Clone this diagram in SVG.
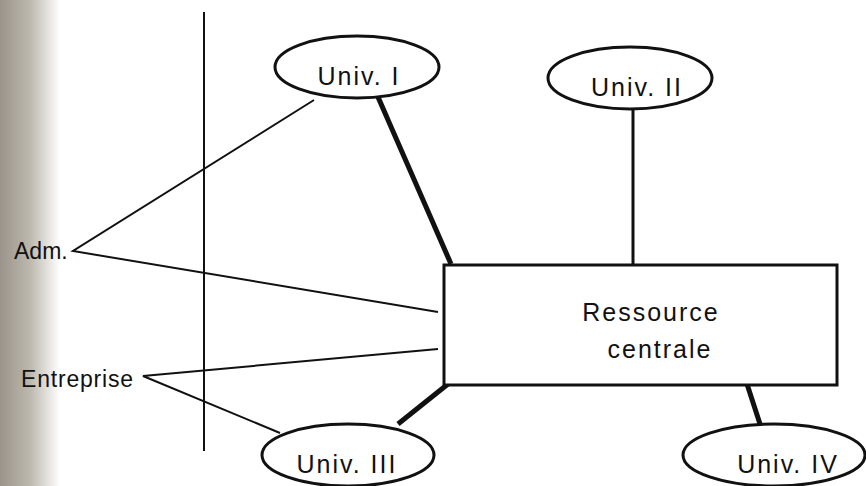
<svg xmlns="http://www.w3.org/2000/svg" width="866" height="486" viewBox="0 0 866 486">
<defs>
<linearGradient id="scan" x1="0" y1="0" x2="1" y2="0">
<stop offset="0" stop-color="#9a948a"/>
<stop offset="0.5" stop-color="#bdb8ae"/>
<stop offset="1" stop-color="#ffffff"/>
</linearGradient>
</defs>
<style>
text{font-family:"Liberation Sans",Arial,sans-serif;fill:#111;font-size:23px}
.lbl{font-size:25px;letter-spacing:2px}
.node{fill:#fff;stroke:#111;stroke-width:3}
.thin{stroke:#111;stroke-width:2;fill:none}
.mid{stroke:#111;stroke-width:3;fill:none}
.thick{stroke:#111;stroke-width:5;fill:none}
</style>
<rect x="0" y="0" width="866" height="486" fill="#fff"/>
<rect x="0" y="0" width="60" height="486" fill="url(#scan)"/>
<line class="thin" x1="204" y1="12" x2="204" y2="451"/>
<g id="connectors">
<line class="thick" x1="378" y1="97" x2="451" y2="264"/>
<line class="mid" x1="633" y1="109" x2="633" y2="265"/>
<line class="thick" x1="448" y1="384" x2="398" y2="424"/>
<line class="thick" x1="747" y1="384" x2="760" y2="424"/>
<polyline class="thin" points="314,100 73,251 438,312"/>
<polyline class="thin" points="438,349 143,376 280,433"/>
</g>
<g id="univ1">
<ellipse class="node" cx="357" cy="67" rx="82" ry="31"/>
<text class="lbl" x="359" y="85" text-anchor="middle">Univ. I</text>
</g>
<g id="univ2">
<ellipse class="node" cx="630" cy="78" rx="82" ry="31"/>
<text class="lbl" x="637" y="96" text-anchor="middle">Univ. II</text>
</g>
<g id="ressource">
<rect class="node" x="444" y="265" width="393" height="120"/>
<text class="lbl" x="651" y="321" text-anchor="middle" letter-spacing="1.2">Ressource</text>
<text class="lbl" x="660" y="358" text-anchor="middle" letter-spacing="1.2">centrale</text>
</g>
<g id="univ3">
<ellipse class="node" cx="348" cy="455" rx="86" ry="31"/>
<text class="lbl" x="347" y="473" text-anchor="middle">Univ. III</text>
</g>
<g id="univ4">
<ellipse class="node" cx="774" cy="455" rx="91" ry="31"/>
<text class="lbl" x="788" y="473" text-anchor="middle">Univ. IV</text>
</g>
<g id="adm">
<text x="14" y="259">Adm.</text>
</g>
<g id="entreprise">
<text x="21" y="387" letter-spacing="0.8">Entreprise</text>
</g>
</svg>
